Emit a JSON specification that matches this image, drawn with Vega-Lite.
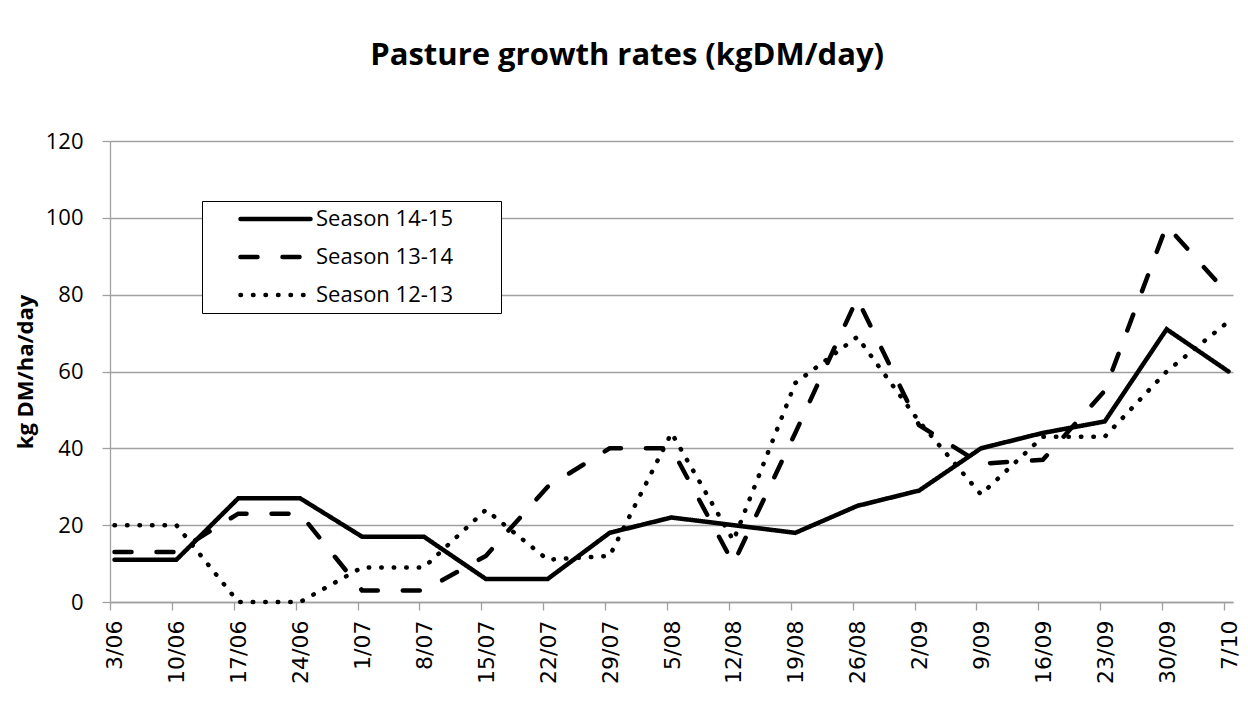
{
  "$schema": "https://vega.github.io/schema/vega-lite/v6.json",
  "width": 1123,
  "height": 461,
  "autosize": "none",
  "padding": {"left": 110, "top": 141, "right": 15, "bottom": 109},
  "background": "white",
  "title": {
    "text": "Pasture growth rates (kgDM/day)",
    "font": "Open Sans",
    "fontSize": 31,
    "fontWeight": "bold",
    "color": "black",
    "anchor": "middle",
    "frame": "bounds",
    "offset": 58
  },
  "data": {
    "values": [
      {"season": "Season 14-15", "date": "3/06", "value": 11},
      {"season": "Season 14-15", "date": "10/06", "value": 11},
      {"season": "Season 14-15", "date": "17/06", "value": 27},
      {"season": "Season 14-15", "date": "24/06", "value": 27},
      {"season": "Season 14-15", "date": "1/07", "value": 17},
      {"season": "Season 14-15", "date": "8/07", "value": 17},
      {"season": "Season 14-15", "date": "15/07", "value": 6},
      {"season": "Season 14-15", "date": "22/07", "value": 6},
      {"season": "Season 14-15", "date": "29/07", "value": 18},
      {"season": "Season 14-15", "date": "5/08", "value": 22},
      {"season": "Season 14-15", "date": "12/08", "value": 20},
      {"season": "Season 14-15", "date": "19/08", "value": 18},
      {"season": "Season 14-15", "date": "26/08", "value": 25},
      {"season": "Season 14-15", "date": "2/09", "value": 29},
      {"season": "Season 14-15", "date": "9/09", "value": 40},
      {"season": "Season 14-15", "date": "16/09", "value": 44},
      {"season": "Season 14-15", "date": "23/09", "value": 47},
      {"season": "Season 14-15", "date": "30/09", "value": 71},
      {"season": "Season 14-15", "date": "7/10", "value": 60},
      {"season": "Season 13-14", "date": "3/06", "value": 13},
      {"season": "Season 13-14", "date": "10/06", "value": 13},
      {"season": "Season 13-14", "date": "17/06", "value": 23},
      {"season": "Season 13-14", "date": "24/06", "value": 23},
      {"season": "Season 13-14", "date": "1/07", "value": 3},
      {"season": "Season 13-14", "date": "8/07", "value": 3},
      {"season": "Season 13-14", "date": "15/07", "value": 12},
      {"season": "Season 13-14", "date": "22/07", "value": 30},
      {"season": "Season 13-14", "date": "29/07", "value": 40},
      {"season": "Season 13-14", "date": "5/08", "value": 40},
      {"season": "Season 13-14", "date": "12/08", "value": 10},
      {"season": "Season 13-14", "date": "19/08", "value": 44},
      {"season": "Season 13-14", "date": "26/08", "value": 79},
      {"season": "Season 13-14", "date": "2/09", "value": 46},
      {"season": "Season 13-14", "date": "9/09", "value": 36},
      {"season": "Season 13-14", "date": "16/09", "value": 37},
      {"season": "Season 13-14", "date": "23/09", "value": 55},
      {"season": "Season 13-14", "date": "30/09", "value": 98},
      {"season": "Season 13-14", "date": "7/10", "value": 80},
      {"season": "Season 12-13", "date": "3/06", "value": 20},
      {"season": "Season 12-13", "date": "10/06", "value": 20},
      {"season": "Season 12-13", "date": "17/06", "value": 0},
      {"season": "Season 12-13", "date": "24/06", "value": 0},
      {"season": "Season 12-13", "date": "1/07", "value": 9},
      {"season": "Season 12-13", "date": "8/07", "value": 9},
      {"season": "Season 12-13", "date": "15/07", "value": 24},
      {"season": "Season 12-13", "date": "22/07", "value": 11},
      {"season": "Season 12-13", "date": "29/07", "value": 12},
      {"season": "Season 12-13", "date": "5/08", "value": 44},
      {"season": "Season 12-13", "date": "12/08", "value": 16},
      {"season": "Season 12-13", "date": "19/08", "value": 57},
      {"season": "Season 12-13", "date": "26/08", "value": 69},
      {"season": "Season 12-13", "date": "2/09", "value": 47},
      {"season": "Season 12-13", "date": "9/09", "value": 28},
      {"season": "Season 12-13", "date": "16/09", "value": 43},
      {"season": "Season 12-13", "date": "23/09", "value": 43},
      {"season": "Season 12-13", "date": "30/09", "value": 60},
      {"season": "Season 12-13", "date": "7/10", "value": 73}
    ]
  },
  "mark": {"type": "line", "color": "black", "strokeWidth": 4.5, "strokeCap": "round"},
  "encoding": {
    "x": {
      "field": "date",
      "type": "ordinal",
      "sort": ["3/06","10/06","17/06","24/06","1/07","8/07","15/07","22/07","29/07","5/08","12/08","19/08","26/08","2/09","9/09","16/09","23/09","30/09","7/10"],
      "scale": {"type": "point", "padding": 0.0727},
      "axis": {
        "title": null,
        "labelAngle": 270,
        "labelFont": "DejaVu Sans",
        "labelFontSize": 22,
        "labelColor": "black",
        "labelPadding": 10,
        "tickOffset": -4.5,
        "labelOffset": 5,
        "tickSize": 8,
        "tickColor": "#a0a0a0",
        "tickWidth": 1.3,
        "domainColor": "#a0a0a0",
        "domainWidth": 1.3,
        "grid": false
      }
    },
    "y": {
      "field": "value",
      "type": "quantitative",
      "scale": {"domain": [0, 120], "nice": false},
      "axis": {
        "title": "kg DM/ha/day",
        "titleFont": "Open Sans",
        "titleFontSize": 22,
        "titleFontWeight": "bold",
        "titleColor": "black",
        "titlePadding": 8,
        "values": [0, 20, 40, 60, 80, 100, 120],
        "labelFont": "Open Sans",
        "labelFontSize": 22,
        "labelColor": "black",
        "labelPadding": 19,
        "tickSize": 8,
        "tickColor": "#a0a0a0",
        "tickWidth": 1.3,
        "domainColor": "#a0a0a0",
        "domainWidth": 1.3,
        "grid": true,
        "gridColor": "#a0a0a0",
        "gridWidth": 1.3
      }
    },
    "strokeDash": {
      "field": "season",
      "type": "nominal",
      "scale": {
        "domain": ["Season 14-15", "Season 13-14", "Season 12-13"],
        "range": [[1, 0], [17, 25], [0.5, 12]]
      },
      "legend": {
        "title": null,
        "orient": "none",
        "legendX": 92,
        "legendY": 60,
        "padding": 0,
        "clipHeight": 36,
        "rowPadding": 2,
        "symbolType": "stroke",
        "symbolSize": 4900,
        "symbolStrokeWidth": 4.5,
        "symbolStrokeColor": "black",
        "symbolOffset": 36,
        "labelOffset": 3,
        "labelFont": "Open Sans",
        "labelFontSize": 22,
        "labelColor": "black",
        "labelLimit": 400,
        "labelExpr": "datum.label + '\u2800\u2800\u2800'",
        "strokeColor": "black",
        "fillColor": "white",
        "encode": {
          "symbols": {"update": {"strokeCap": {"value": "round"}}}
        }
      }
    }
  },
  "config": {
    "view": {"stroke": null}
  }
}
